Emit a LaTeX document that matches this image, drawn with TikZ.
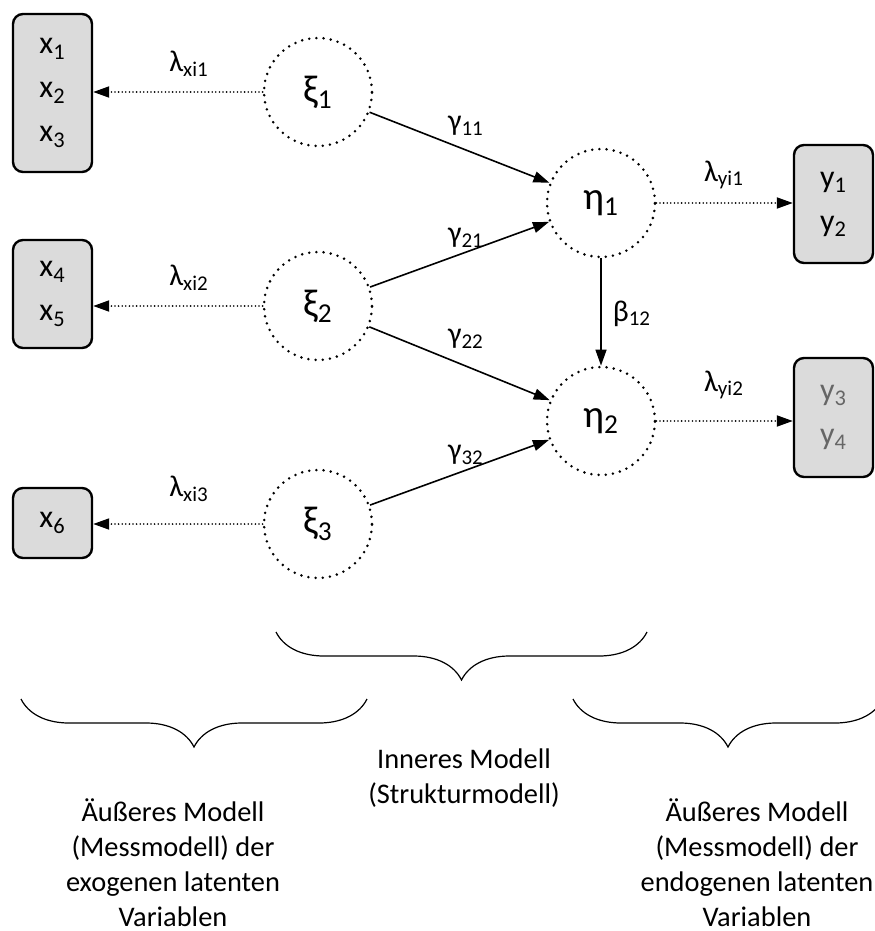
\documentclass[tikz,border=0pt]{standalone}
\usepackage{fontspec}
\setmainfont{Carlito}
\usetikzlibrary{arrows.meta,decorations.pathreplacing}

\newcommand{\ix}[1]{\textsubscript{#1}}

\begin{document}
\begin{tikzpicture}[x=0.5pt,y=-0.5pt,
  latent/.style={circle,minimum size=54pt,inner sep=0pt,line width=1.4pt,
    dash pattern=on 0pt off 3.6pt,line cap=round,font=\fontsize{19.5}{21}\selectfont},
  manifest/.style={draw,rounded corners=5pt,line width=1.2pt,fill=black!14,
    minimum width=39.5pt,align=center,font=\fontsize{16}{22}\selectfont},
  path/.style={-{Triangle[length=8pt,width=5.5pt]},line width=0.8pt},
  loading/.style={path,line width=0.9pt,dash pattern=on 0pt off 1.8pt,line cap=round},
  coef/.style={font=\fontsize{15}{17}\selectfont},
  brace/.style={decorate,decoration={brace,amplitude=24pt},line width=0.6pt},
  caption/.style={align=center,inner sep=0pt,font=\fontsize{14.2}{17.5}\selectfont}]
  \useasboundingbox (0,0) rectangle (874,931);

  % latente Variablen
  \node[latent,draw] (xi1) at (318,92) {ξ\ix{1}};
  \node[latent,draw] (xi2) at (318,306) {ξ\ix{2}};
  \node[latent,draw] (xi3) at (318,524) {ξ\ix{3}};
  \node[latent,draw] (eta1) at (601,203) {η\ix{1}};
  \node[latent,draw] (eta2) at (601,421) {η\ix{2}};

  % Indikatoren
  \node[manifest,minimum height=79pt] (x123) at (52.5,93) {x\ix{1}\\x\ix{2}\\x\ix{3}};
  \node[manifest,minimum height=54pt] (x45) at (52.5,294) {x\ix{4}\\x\ix{5}};
  \node[manifest,minimum height=35pt] (x6) at (52.5,523) {x\ix{6}};
  \node[manifest,minimum height=59pt] (y12) at (833.5,204) {y\ix{1}\\y\ix{2}};
  \node[manifest,minimum height=59.5pt,text=black!60] (y34) at (833.5,417.5) {y\ix{3}\\y\ix{4}};

  % Messmodelle
  \draw[loading] (xi1.west) -- (x123.east |- xi1.west);
  \draw[loading] (xi2.west) -- (x45.east |- xi2.west);
  \draw[loading] (xi3.west) -- (x6.east |- xi3.west);
  \draw[loading] (eta1.east) -- (y12.west |- eta1.east);
  \draw[loading] (eta2.east) -- (y34.west |- eta2.east);
  \node[coef] (lx1) at (189,64) {λ\ix{xi1}};
  \node[coef] (lx2) at (189,278) {λ\ix{xi2}};
  \node[coef] (lx3) at (189,489) {λ\ix{xi3}};
  \node[coef] (ly1) at (724,175) {λ\ix{yi1}};
  \node[coef] (ly2) at (724,385) {λ\ix{yi2}};

  % Strukturmodell
  \draw[path] (xi1) -- (eta1);
  \draw[path] (xi2) -- (eta1);
  \draw[path] (xi2) -- (eta2);
  \draw[path] (xi3) -- (eta2);
  \draw[path] (eta1) -- (eta2);
  \node[coef] (g11) at (466,126) {γ\ix{11}};
  \node[coef] (g21) at (466,238) {γ\ix{21}};
  \node[coef] (g22) at (466,339) {γ\ix{22}};
  \node[coef] (g32) at (466,455) {γ\ix{32}};
  \node[coef] (b12) at (632,314) {β\ix{12}};

  % Klammern
  \draw[brace] (647,632) -- (276,632);
  \draw[brace] (367,699) -- (21,699);
  \draw[brace] (883,699) -- (573,699);
  \node[caption] (inner) at (464,778) {Inneres Modell\\(Strukturmodell)};
  \node[caption] (outerx) at (173,863) {Äußeres Modell\\(Messmodell) der\\exogenen latenten\\Variablen};
  \node[caption] (outery) at (757,863) {Äußeres Modell\\(Messmodell) der\\endogenen latenten\\Variablen};
\end{tikzpicture}
\end{document}
